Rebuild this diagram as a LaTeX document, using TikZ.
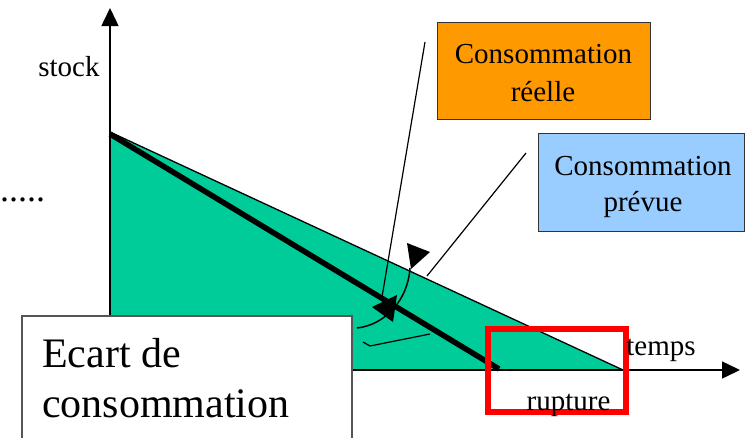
\documentclass[tikz,border=0pt]{standalone}
\usepackage{fontspec}
\setmainfont{Liberation Serif}
\usetikzlibrary{arrows.meta}
\definecolor{vert}{RGB}{0,204,153}
\definecolor{orangebox}{RGB}{255,153,0}
\definecolor{bluebox}{RGB}{153,204,255}
\definecolor{edgegrey}{RGB}{85,85,85}
\begin{document}
\begin{tikzpicture}[x=1pt,y=-1pt,
  lbl/.style={font=\fontsize{29}{29}\selectfont, inner sep=0pt, anchor=base},
  biglbl/.style={font=\fontsize{42}{42}\selectfont, inner sep=0pt, anchor=base west},
  axis/.style={line width=1.5pt, -{Triangle[length=18pt,width=17pt]}},
  box/.style={draw=black!80, line width=1pt, inner sep=0pt},
  conn/.style={line width=1.2pt},
  head/.style={fill=black}]
\useasboundingbox (0,0) rectangle (745,437);
\clip (0,0) rectangle (745,437);

% shaded area
\coordinate (O) at (110,370);
\coordinate (stop) at (110,132);
\coordinate (pend) at (623,370);
\filldraw[fill=vert, draw=black, line width=1.3pt] (stop) -- (pend) -- (O) -- cycle;

% axes
\coordinate (ytop) at (110,8);
\coordinate (xend) at (740,370);
\draw[axis] (O) -- (ytop);
\draw[axis] (O) -- (xend);

% real consumption (thick)
\coordinate (r0) at (110,134);
\coordinate (r1) at (499,369);
\draw[line width=5.5pt] (r0) -- (r1);

% connectors
\coordinate (oa) at (425,42);
\coordinate (ob) at (382,297);
\draw[conn] (oa) -- (ob);
\coordinate (ba) at (526,153);
\coordinate (bb) at (427,276);
\draw[conn] (ba) -- (bb);
\fill[head] (372,307) -- (397,295) -- (393,322) -- cycle;

% gap arc
\coordinate (ga) at (357,328);
\coordinate (gb) at (410,268);
\draw[line width=1.5pt] (ga) .. controls (385,325) and (408,300) .. (gb);
\fill[head] (407,243) -- (430,252) -- (411,269) -- cycle;
\coordinate (k1) at (363,342);
\coordinate (k2) at (370,346);
\coordinate (k3) at (430,334);
\draw[line width=1.2pt] (k1) -- (k2) -- (k3);

% boxes
\node[box, fill=orangebox, minimum width=213pt, minimum height=97pt] (reelle) at (543.5,70.5) {};
\node[lbl] (reelleA) at (543.5,63) {Consommation};
\node[lbl] (reelleB) at (543,101) {réelle};

\node[box, fill=bluebox, minimum width=206pt, minimum height=98pt] (prevue) at (641,182) {};
\node[lbl] (prevueA) at (643,175) {Consommation};
\node[lbl] (prevueB) at (643,211) {prévue};

% rupture box
\node[draw=red, line width=6pt, minimum width=138pt, minimum height=83pt, inner sep=0pt] (rupt) at (557,370.5) {};

% labels
\node[lbl] (stock) at (69,76) {stock};
\node[lbl] (temps) at (661,355) {temps};
\node[lbl] (rupture) at (568.5,410) {rupture};
\node[font=\fontsize{36}{36}\selectfont, inner sep=0pt, anchor=base west] (dots) at (0,201) {.....};

% ecart box
\node[draw=edgegrey, line width=1.5pt, fill=white, minimum width=330pt, minimum height=140pt, inner sep=0pt] (ecart) at (187,386) {};
\node[biglbl] (ecartA) at (42,367) {Ecart de};
\node[biglbl] (ecartB) at (42,417) {consommation};
\end{tikzpicture}
\end{document}
